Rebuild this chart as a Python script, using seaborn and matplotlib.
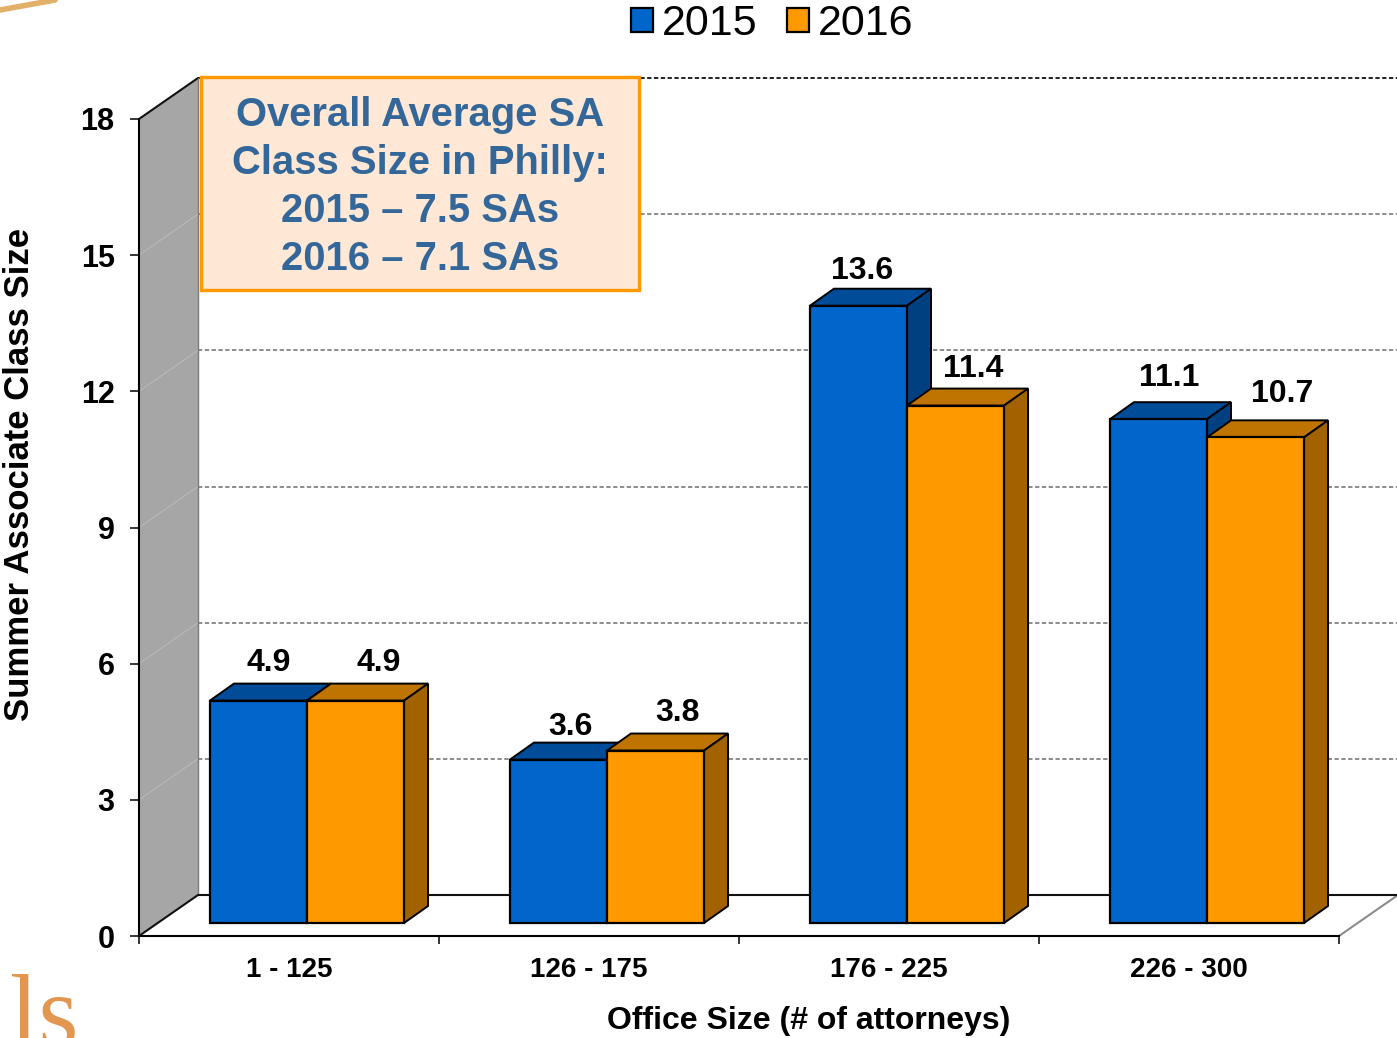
import numpy as np
import pandas as pd
import matplotlib
matplotlib.use("Agg")
import matplotlib.pyplot as plt
from matplotlib.patches import Patch, Polygon, Rectangle
from matplotlib.lines import Line2D
from matplotlib.transforms import IdentityTransform, offset_copy
import seaborn as sns

# Chart data
categories = ["1 - 125", "126 - 175", "176 - 225", "226 - 300"]
values_2015 = [4.9, 3.6, 13.6, 11.1]
values_2016 = [4.9, 3.8, 11.4, 10.7]
years = ["2015", "2016"]
y_ticks = [0, 3, 6, 9, 12, 15, 18]
box_lines = ["Overall Average SA", "Class Size in Philly:", "2015 \u2013 7.5 SAs", "2016 \u2013 7.1 SAs"]

# hand placed label nudges in pixels, one per bar (dx, dy from bar top centre)
nudge_2015 = [(10, 38), (12, 33), (4, 35), (11, 41)]
nudge_2016 = [(23, 38), (22, 38), (18, 37), (27, 43)]

W, H = 1397, 1038
BLUE, BLUE_TOP, BLUE_SIDE = "#0066CC", "#004C99", "#003F80"
ORANGE, ORANGE_TOP, ORANGE_SIDE = "#FF9900", "#BF7300", "#A36200"

sns.set_theme(style="white")
plt.rcParams["font.family"] = ["Liberation Sans", "DejaVu Sans"]

fig = plt.figure(figsize=(W / 100, H / 100), dpi=100)
ax = fig.add_axes([139 / W, 1 - 936 / H, 1200 / W, 817 / H])
ax.patch.set_alpha(0)


def fig_xy(px, py):
    return px / W, 1 - py / H


df = pd.DataFrame({
    "office": categories * 2,
    "size": values_2015 + values_2016,
    "year": [years[0]] * 4 + [years[1]] * 4,
})
sns.barplot(data=df, x="office", y="size", hue="year", palette=[BLUE, ORANGE],
            width=0.647, gap=0, saturation=1, edgecolor="black", linewidth=1.6,
            legend=False, ax=ax)

ax.set_xlim(-0.5, 3.5)
ax.set_ylim(0, 18)
ax.set_xlabel("")
ax.set_ylabel("")

# bars sit a little inside the floor, walls at full depth
bar_shift = offset_copy(ax.transData, fig, x=18, y=13, units="dots")
wall_shift = offset_copy(ax.transData, fig, x=59, y=41, units="dots")
DEPTH_X, DEPTH_Y = 24, 17


def data_px(x, y):
    return ax.transData.transform((x, y)) + np.array([18, 13])


def add_3d(bar, top_color, side_color, z):
    x0, x1 = bar.get_x(), bar.get_x() + bar.get_width()
    h = bar.get_height()
    bl, br = data_px(x0, h), data_px(x1, h)
    low = data_px(x1, 0)
    d = np.array([DEPTH_X, DEPTH_Y])
    top = Polygon([bl, br, br + d, bl + d], closed=True, transform=IdentityTransform(),
                  facecolor=top_color, edgecolor="black", linewidth=1.4, zorder=z, clip_on=False)
    side = Polygon([br, low, low + d, br + d], closed=True, transform=IdentityTransform(),
                   facecolor=side_color, edgecolor="black", linewidth=1.4, zorder=z, clip_on=False)
    ax.add_patch(top)
    ax.add_patch(side)


for i, (cont, top_c, side_c, nudges) in enumerate(zip(ax.containers, [BLUE_TOP, ORANGE_TOP],
                                                      [BLUE_SIDE, ORANGE_SIDE], [nudge_2015, nudge_2016])):
    for bar, nudge in zip(cont, nudges):
        bar.set_transform(bar_shift)
        bar.set_zorder(4 + i * 2)
        bar.set_clip_on(False)
        add_3d(bar, top_c, side_c, 3 + i * 2)
        ax.annotate(f"{bar.get_height():.1f}",
                    (bar.get_x() + bar.get_width() / 2, bar.get_height()),
                    xycoords=bar_shift, xytext=nudge, textcoords="offset pixels",
                    ha="center", va="center", fontsize=23, fontweight="bold",
                    color="black", zorder=20)

# back wall gridlines
for t in y_ticks[1:]:
    color = "#222222" if t == y_ticks[-1] else "#8C8C8C"
    ax.hlines(t, -0.5, 3.5, transform=wall_shift, colors=color, linewidth=1.4,
              linestyles=(0, (2.2, 1.3)), zorder=1, clip_on=False)

# left wall and floor
front_bot = ax.transData.transform((-0.5, 0))
front_top = ax.transData.transform((-0.5, 18))
front_right = ax.transData.transform((3.5, 0))
depth = np.array([59, 41])
ax.add_patch(Polygon([front_bot, front_top, front_top + depth, front_bot + depth], closed=True,
                     transform=IdentityTransform(), facecolor="#A6A6A6", edgecolor="none",
                     zorder=0.5, clip_on=False))
for t in y_ticks[1:-1]:
    p = ax.transData.transform((-0.5, t))
    ax.add_line(Line2D(*np.column_stack([p, p + depth]), transform=IdentityTransform(),
                       color="#B8B8B8", linewidth=0.8, zorder=0.8, clip_on=False))
for a, b, c, lw in [(front_top, front_top + depth, "#111111", 1.5),
                    (front_bot, front_bot + depth, "#111111", 1.5),
                    (front_bot + depth, front_top + depth, "#7A7A7A", 1.0),
                    (front_right, front_right + depth, "#8C8C8C", 1.5),
                    (front_bot + depth, front_right + depth, "#111111", 1.5)]:
    ax.add_line(Line2D(*np.column_stack([a, b]), transform=IdentityTransform(),
                       color=c, linewidth=lw, zorder=1, clip_on=False))

# axes and ticks
sns.despine(ax=ax, top=True, right=True)
for s in ["left", "bottom"]:
    ax.spines[s].set_color("black")
    ax.spines[s].set_linewidth(1.5)
ax.set_yticks(y_ticks)
ax.set_xticks(range(len(categories)))
ax.set_xticklabels(categories)
ax.set_xticks(np.arange(-0.5, 4), minor=True)
ax.tick_params(axis="y", left=True, length=6.5, width=1.1, color="black", pad=11, labelsize=22)
ax.tick_params(axis="x", which="major", bottom=False, length=0, pad=15, labelsize=20)
ax.tick_params(axis="x", which="minor", bottom=True, length=5.5, width=1.1, color="black")
for lab in ax.get_xticklabels() + ax.get_yticklabels():
    lab.set_fontweight("bold")
    lab.set_color("black")

fig.text(*fig_xy(809, 1021), "Office Size (# of attorneys)", ha="center", va="center",
         fontsize=23, fontweight="bold", color="black")
fig.text(*fig_xy(20, 474), "Summer Associate Class Size", ha="center", va="center",
         rotation=90, fontsize=25, fontweight="bold", color="black")

# callout box
x0, y1 = fig_xy(201, 290)
x1, y0 = fig_xy(639, 77)
ax.add_patch(Rectangle((x0, y1), x1 - x0, y0 - y1, transform=fig.transFigure,
                       facecolor="#FFE8D6", edgecolor=ORANGE, linewidth=2.4, zorder=10, clip_on=False))
for line, py in zip(box_lines, [115, 163, 211, 259]):
    fig.text(*fig_xy(420, py), line, ha="center", va="center", fontsize=28.8,
             fontweight="bold", color="#336699", zorder=11)

# legend
handles = [Patch(facecolor=BLUE, edgecolor="black", linewidth=1.6),
           Patch(facecolor=ORANGE, edgecolor="black", linewidth=1.6)]
fig.legend(handles, years, loc="center", bbox_to_anchor=fig_xy(772, 24), ncol=2, frameon=False,
           fontsize=31, handlelength=0.52, handleheight=0.48, handletextpad=0.2,
           columnspacing=0.68, borderpad=0, labelcolor="black")

# bits of the slide background at the corners
fig.add_artist(Line2D([0, 55 / W], [1 - 10 / H, 1 - 0 / H], color="#DFA24F", linewidth=4, alpha=0.85))
fig.text(*fig_xy(10, 1046), "ls", fontsize=74, family="Liberation Serif", color="#E39650",
         ha="left", va="baseline")

fig.savefig("out.png", dpi=100)
